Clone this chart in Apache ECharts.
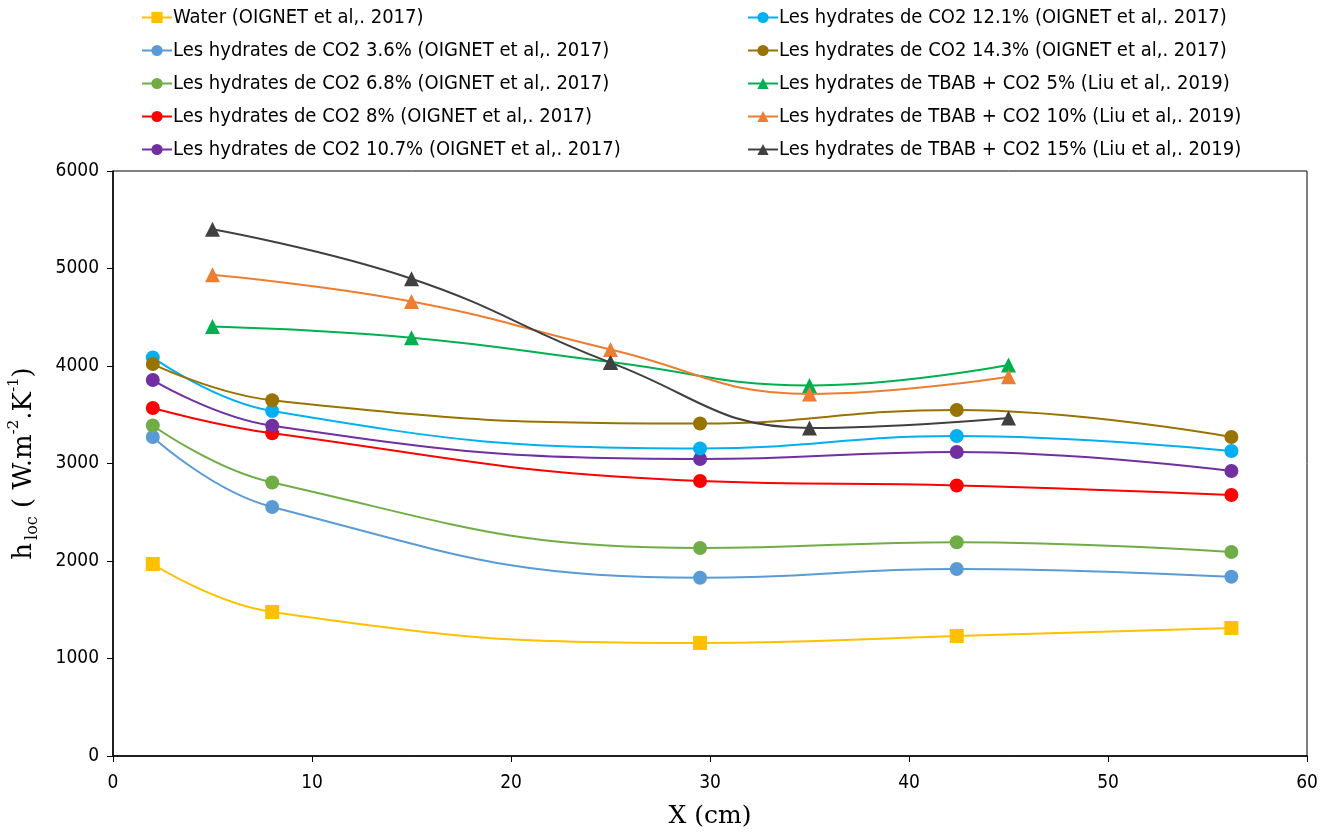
<!DOCTYPE html>
<html><head><meta charset="utf-8">
<script src="https://cdn.jsdelivr.net/npm/echarts@6/dist/echarts.min.js"></script>
<style>html,body{margin:0;padding:0;background:#fff}#c{width:1340px;height:834px}</style>
</head><body><div id="c"></div>
<script>
// ---- data ----
const xOignet = [2, 8, 29.5, 42.4, 56.2];
const xLiu = [5, 15, 25, 35, 45];
const water = [1969, 1477, 1160, 1231, 1313];
const co2_36 = [3272, 2554, 1828, 1918, 1838];
const co2_68 = [3390, 2805, 2133, 2193, 2092];
const co2_8 = [3569, 3310, 2821, 2775, 2677];
const co2_107 = [3856, 3388, 3046, 3118, 2923];
const co2_121 = [4088, 3538, 3155, 3282, 3128];
const co2_143 = [4020, 3648, 3410, 3549, 3272];
const tbab5 = [4405, 4290, 4041, 3800, 4010];
const tbab10 = [4935, 4662, 4170, 3713, 3890];
const tbab15 = [5402, 4895, 4035, 3364, 3467];
const names = [
  'Water (OIGNET et al,. 2017)',
  'Les hydrates de CO2 3.6% (OIGNET et al,. 2017)',
  'Les hydrates de CO2 6.8% (OIGNET et al,. 2017)',
  'Les hydrates de CO2 8% (OIGNET et al,. 2017)',
  'Les hydrates de CO2 10.7% (OIGNET et al,. 2017)',
  'Les hydrates de CO2 12.1% (OIGNET et al,. 2017)',
  'Les hydrates de CO2 14.3% (OIGNET et al,. 2017)',
  'Les hydrates de TBAB + CO2 5% (Liu et al,. 2019)',
  'Les hydrates de TBAB + CO2 10% (Liu et al,. 2019)',
  'Les hydrates de TBAB + CO2 15% (Liu et al,. 2019)'
];
const xTicks = [0, 10, 20, 30, 40, 50, 60];
const yTicks = [0, 1000, 2000, 3000, 4000, 5000, 6000];

const colors = ['#FFC000','#5B9BD5','#70AD47','#FF0000','#7030A0','#00B0F0','#997300','#00B050','#ED7D31','#404040'];
const symbols = ['rect','circle','circle','circle','circle','circle','circle','triangle','triangle','triangle'];
const values = [water, co2_36, co2_68, co2_8, co2_107, co2_121, co2_143, tbab5, tbab10, tbab15];
const xs = [xOignet, xOignet, xOignet, xOignet, xOignet, xOignet, xOignet, xLiu, xLiu, xLiu];

const labelFont = '"DejaVu Sans Condensed", "DejaVu Sans", sans-serif';
const series = values.map((v, i) => ({
  name: names[i],
  type: 'line',
  smooth: 0.45,
  data: v.map((y, k) => [xs[i][k], y]),
  symbol: symbols[i],
  symbolSize: symbols[i] === 'triangle' ? 15 : 14,
  itemStyle: { color: colors[i] },
  lineStyle: { color: colors[i], width: 2 },
  z: 2 + i
}));

const legendCommon = {
  orient: 'vertical',
  top: 2,
  itemWidth: 30,
  itemHeight: 14,
  itemGap: 12,
  textStyle: { fontFamily: labelFont, fontSize: 20, color: '#000', lineHeight: 21, padding: [0,0,0,-4] }
};

const chart = echarts.init(document.getElementById('c'));
chart.setOption({
  animation: false,
  color: colors,
  legend: [
    Object.assign({ left: 136, data: names.slice(0, 5) }, legendCommon),
    Object.assign({ left: 742, data: names.slice(5) }, legendCommon)
  ],
  grid: { left: 113, right: 33, top: 171, bottom: 78, show: true, borderColor: '#000', borderWidth: 1, containLabel: false, outerBoundsMode: 'none' },
  xAxis: {
    type: 'value', min: xTicks[0], max: xTicks[xTicks.length - 1], interval: 10,
    axisLine: { lineStyle: { color: '#000', width: 1.5 } },
    axisTick: { show: true, length: 6, lineStyle: { color: '#000' } },
    splitLine: { show: false },
    axisLabel: { fontFamily: labelFont, fontSize: 19, color: '#000', margin: 18 },
    name: 'X (cm)', nameLocation: 'middle', nameGap: 48,
    nameTextStyle: { fontFamily: '"DejaVu Serif", serif', fontSize: 25, color: '#000' }
  },
  yAxis: {
    type: 'value', min: yTicks[0], max: yTicks[yTicks.length - 1], interval: 1000,
    axisLine: { show: true, lineStyle: { color: '#000', width: 1.5 } },
    axisTick: { show: true, length: 6, lineStyle: { color: '#000' } },
    splitLine: { show: false },
    axisLabel: { fontFamily: labelFont, fontSize: 19, color: '#000', margin: 14, formatter: (v) => String(v) },
    name: '{m|h}{s|loc}{m| ( W.m}{p|-2}{m|.K}{p|-1}{m|)}',
    nameLocation: 'middle', nameGap: 72, nameRotate: 90,
    nameTextStyle: {
      color: '#000',
      rich: {
        m: { fontFamily: '"DejaVu Serif", serif', fontSize: 26, color: '#000', lineHeight: 34, verticalAlign: 'middle' },
        s: { fontFamily: '"DejaVu Serif", serif', fontSize: 16, color: '#000', lineHeight: 34, verticalAlign: 'bottom', padding: [0, 0, 0, 3] },
        p: { fontFamily: '"DejaVu Serif", serif', fontSize: 15, color: '#000', lineHeight: 34, verticalAlign: 'top' }
      }
    }
  },
  series: series
});
</script></body></html>
